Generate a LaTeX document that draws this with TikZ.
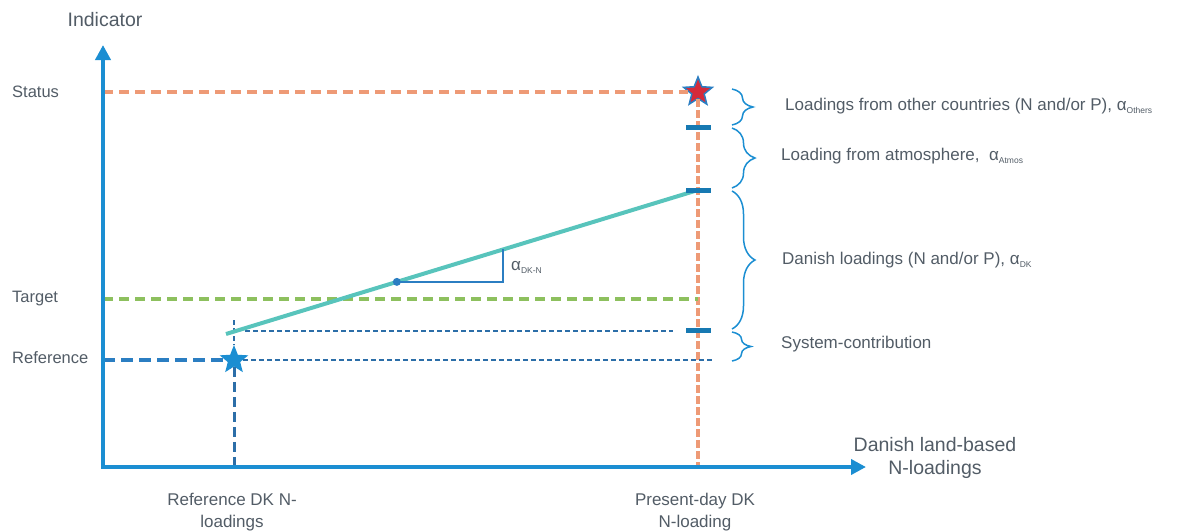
\documentclass[tikz,border=0pt]{standalone}
\usepackage{fontspec}
\setmainfont{Liberation Sans}
\usetikzlibrary{arrows.meta,calc,shapes.geometric,decorations.pathreplacing}
\definecolor{axisblue}{HTML}{1B8ED2}
\definecolor{statusorange}{HTML}{EE9A76}
\definecolor{targetgreen}{HTML}{8DC05E}
\definecolor{slopeteal}{HTML}{58C4BC}
\definecolor{refblue}{HTML}{2B7EC2}
\definecolor{darkblue}{HTML}{2C6EA8}
\definecolor{starred}{HTML}{D42A3A}
\definecolor{txtgray}{HTML}{525C66}
\tikzset{
  axis/.style={axisblue, line width=4pt, line join=miter,
    {Triangle[length=15pt,width=15pt]}-{Triangle[length=15pt,width=15pt]}},
  statusline/.style={statusorange, line width=3.5pt, dash pattern=on 10pt off 6pt},
  nowline/.style={statusorange, line width=4pt, dash pattern=on 8pt off 3pt},
  targetline/.style={targetgreen, line width=3.5pt, dash pattern=on 10pt off 6pt},
  refline/.style={refblue, line width=4pt, dash pattern=on 12pt off 6pt},
  refvline/.style={darkblue, line width=3pt, dash pattern=on 10pt off 5pt},
  thindash/.style={darkblue, line width=1.3pt, dash pattern=on 5pt off 3pt},
  slope/.style={slopeteal, line width=4pt},
  slopetri/.style={refblue, line width=1.5pt},
  slopedot/.style={circle, fill=refblue, inner sep=0pt, minimum size=8pt},
  tickmark/.style={rectangle, fill=axisblue!85!black, inner sep=0pt,
    minimum width=25pt, minimum height=5pt},
  statusstar/.style={star, star points=5, star point ratio=2.3, fill=starred,
    draw=refblue, line width=1.5pt, inner sep=0pt, minimum size=30pt},
  refstar/.style={star, star points=5, star point ratio=2.3, fill=axisblue,
    inner sep=0pt, minimum size=30pt},
  loadbrace/.style={axisblue, line width=1.5pt, decorate,
    decoration={brace, amplitude=23pt}},
  axislabel/.style={txtgray, inner sep=0pt, font=\fontsize{19.5}{23}\selectfont, align=center},
  levellabel/.style={txtgray, inner sep=0pt, anchor=west, font=\fontsize{16.5}{20}\selectfont},
  ticklabel/.style={txtgray, inner sep=0pt, align=center, font=\fontsize{17}{22}\selectfont},
  bracelabel/.style={txtgray, inner sep=0pt, anchor=west, font=\fontsize{17}{20}\selectfont}
}
\newcommand{\alphasub}[1]{α\raisebox{-0.35ex}{\fontsize{8.5}{9}\selectfont #1}}

\begin{document}
\begin{tikzpicture}[x=1pt, y=-1pt]
  \useasboundingbox (0,0) rectangle (1181,531);
  \coordinate (O) at (103,467);
  \coordinate (ytip) at (103,45);
  \coordinate (xtip) at (866,467);
  \coordinate (ystatus) at (103,92);
  \coordinate (ytarget) at (103,299);
  \coordinate (yref) at (103,360);
  \coordinate (xref) at (234,467);
  \coordinate (xnow) at (698,467);
  \coordinate (targetend) at (698,299);
  \coordinate (slopestart) at (226,334);
  \coordinate (atmoslevel) at (698,190);
  \coordinate (reftop) at (234,320);
  \coordinate (sysleft) at (245,331);
  \coordinate (sysright) at (673,331);
  \coordinate (refright) at (712,360);

  \node[statusstar] (status) at (698,92) {};
  \node[refstar] (ref) at (234,360) {};

  \draw[statusline] (ystatus) -- (status);
  \draw[nowline] (status) -- (xnow);
  \draw[targetline] (ytarget) -- (targetend);
  \draw[refline] (yref) -- (ref);
  \draw[refvline] (ref) -- (xref);
  \draw[thindash] (reftop) -- (ref);
  \draw[thindash] (sysleft) -- (sysright);
  \draw[thindash] (ref) -- (refright);

  \draw[slope] (slopestart) -- (atmoslevel);
  \node[slopedot] (mid) at ($(slopestart)!0.362!(atmoslevel)$) {};
  \coordinate (risetop) at ($(slopestart)!0.587!(atmoslevel)$);
  \draw[slopetri] (mid.center) -- (risetop |- mid.center) -- (risetop);
  \node[txtgray, anchor=west, inner sep=0pt, font=\fontsize{17}{20}\selectfont] (slopelabel) at (511,267) {\alphasub{DK-N}};

  \node[tickmark] (tothers) at (698,127) {};
  \node[tickmark] (tatmos) at (atmoslevel) {};
  \node[tickmark] (tsys) at (698,330) {};

  \draw[axis] (ytip) -- (O) -- (xtip);

  \coordinate (b0) at (732,89);
  \coordinate (b1) at (732,125);
  \coordinate (b2) at (732,128);
  \coordinate (b3) at (732,188);
  \coordinate (b4) at (732,191);
  \coordinate (b5) at (732,329);
  \coordinate (b6) at (732,332);
  \coordinate (b7) at (732,361);
  \draw[loadbrace, decoration={amplitude=21pt}] (b0) -- (b1);
  \draw[loadbrace] (b2) -- (b3);
  \draw[loadbrace] (b4) -- (b5);
  \draw[loadbrace, decoration={amplitude=19pt}] (b6) -- (b7);

  \node[bracelabel] (others) at (785,106) {Loadings from other countries (N and/or P), \alphasub{Others}};
  \node[bracelabel] (atmos) at (781,156) {Loading from atmosphere,\ \ \alphasub{Atmos}};
  \node[bracelabel] (danish) at (782,260) {Danish loadings (N and/or P), \alphasub{DK}};
  \node[bracelabel] (system) at (781,344) {System-contribution};

  \node[axislabel] (indicator) at (105,20) {Indicator};
  \node[levellabel] (statuslbl) at (12,92) {Status};
  \node[levellabel] (targetlbl) at (12,299) {Target};
  \node[levellabel] (reflbl) at (12,358) {Reference};

  \node[ticklabel] (refload) at (232,512) {Reference DK N-\\loadings};
  \node[ticklabel] (nowload) at (695,512) {Present-day DK\\N-loading};
  \node[axislabel] (xtitle) at (935,458) {Danish land-based\\N-loadings};
\end{tikzpicture}
\end{document}
